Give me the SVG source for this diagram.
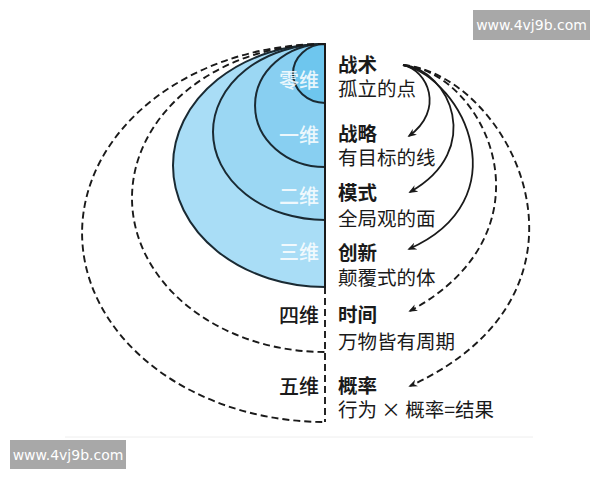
<svg xmlns="http://www.w3.org/2000/svg" width="600" height="480" viewBox="0 0 600 480">
<defs>
<marker id="ah" viewBox="0 0 10 10" refX="8" refY="5" markerWidth="9" markerHeight="9" markerUnits="userSpaceOnUse" orient="auto">
<path d="M0,1 L10,5 L0,9 L3,5 Z" fill="#1a1a1a"/>
</marker>
</defs>
<style>
.shell{stroke:#1a2a33;stroke-width:2}
.dash{fill:none;stroke:#1a1a1a;stroke-width:1.9;stroke-dasharray:7 4}
.arr{fill:none;stroke:#1a1a1a;stroke-width:1.8}
.dim{font-family:"Noto Sans CJK SC","Noto Sans",sans-serif;font-size:20px;font-weight:500;text-anchor:end}
.light{fill:#ffffff;fill-opacity:0.85}
.dark{fill:#1a1a1a}
.t{font-family:"Noto Sans CJK SC","Noto Sans",sans-serif;font-size:19.5px;fill:#1a1a1a;font-weight:bold}
.s{font-family:"Noto Sans CJK SC","Noto Sans",sans-serif;font-size:19.5px;fill:#1a1a1a}
.wm{font-family:"DejaVu Sans",sans-serif;font-size:14px;fill:#ffffff}
</style>
<rect width="600" height="480" fill="#ffffff"/>
<line x1="65" y1="437" x2="533" y2="437" stroke="#eeeeee" stroke-width="1"/>

<g id="shells">
<path id="d3" class="shell" d="M325,44 A152,121.5 0 0 0 325,287 Z" fill="#a9ddf6"/>
<path id="d2" class="shell" d="M325,44 A112,88 0 0 0 325,220 Z" fill="#9bd7f3"/>
<path id="d1" class="shell" d="M325,44 A70,61.5 0 0 0 325,167 Z" fill="#88cff1"/>
<path id="d0" class="shell" d="M325,44 A32,29.5 0 0 0 325,103 Z" fill="#6ec6ee"/>
<path id="d4" class="dash" d="M325,44 A193,154 0 0 0 325,352"/>
<path id="d5" class="dash" d="M325,44 A243,189 0 0 0 325,422"/>
<line x1="325" y1="44" x2="325" y2="287" stroke="#1a1a1a" stroke-width="2"/>
<line x1="325" y1="287" x2="325" y2="422" class="dash"/>
</g>

<g id="dims">
<text class="dim light" x="319" y="88">零维</text>
<text class="dim light" x="319" y="143">一维</text>
<text class="dim light" x="319" y="204">二维</text>
<text class="dim light" x="319" y="260">三维</text>
<text class="dim dark" x="319" y="323">四维</text>
<text class="dim dark" x="319" y="394">五维</text>
</g>

<g id="n0"><text class="t" x="338" y="72">战术</text><text class="s" x="338" y="96">孤立的点</text></g>
<g id="n1"><text class="t" x="338" y="141">战略</text><text class="s" x="338" y="165">有目标的线</text></g>
<g id="n2"><text class="t" x="338" y="200">模式</text><text class="s" x="338" y="226">全局观的面</text></g>
<g id="n3"><text class="t" x="338" y="260">创新</text><text class="s" x="338" y="285">颠覆式的体</text></g>
<g id="n4"><text class="t" x="338" y="322">时间</text><text class="s" x="338" y="349">万物皆有周期</text></g>
<g id="n5"><text class="t" x="338" y="393">概率</text><text class="s" x="338" y="417">行为 × 概率=结果</text></g>

<g id="connectors">
<path class="arr" marker-end="url(#ah)" d="M403,65 C428,70 445,110 409,136"/>
<path class="arr" marker-end="url(#ah)" d="M403,65 C450,70 485,150 410,192"/>
<path class="arr" marker-end="url(#ah)" d="M403,65 C465,80 520,200 409,249"/>
<path class="dash" marker-end="url(#ah)" d="M403,65 C485,72 560,230 410,311"/>
<path class="dash" marker-end="url(#ah)" d="M403,65 C510,75 620,290 410,386"/>
</g>

<g id="watermarks">
<rect x="473" y="10" width="117" height="30" fill="#a8a8a8"/>
<text class="wm" x="531.5" y="30" text-anchor="middle">www.4vj9b.com</text>
<rect x="10" y="440" width="116" height="29" fill="#a8a8a8"/>
<text class="wm" x="68" y="459.5" text-anchor="middle">www.4vj9b.com</text>
</g>
</svg>
